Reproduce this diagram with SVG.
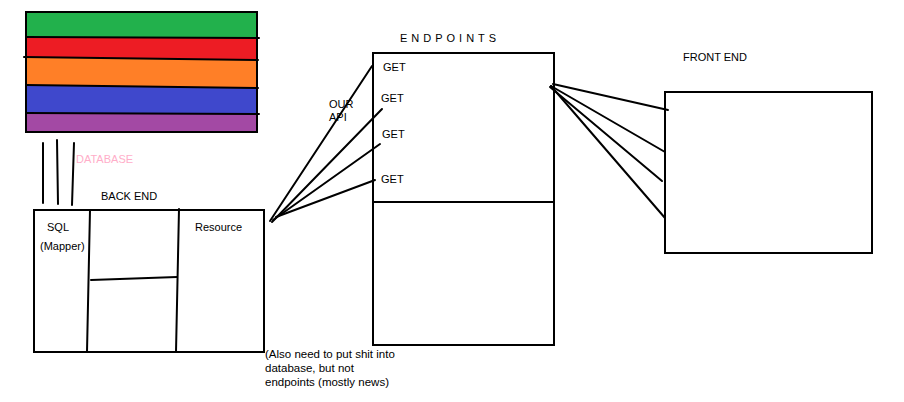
<svg xmlns="http://www.w3.org/2000/svg" width="904" height="402" viewBox="0 0 904 402">
<style>
.t{font-family:"Liberation Sans",Arial,sans-serif;font-size:11px;fill:#000}
.box{fill:none;stroke:#000;stroke-width:2}
.ln{stroke:#000;stroke-width:2;fill:none;stroke-linecap:round}
</style>
<rect width="904" height="402" fill="#fff"/>
<g id="database">
<polygon points="26,12 257,12 257,38 26,37" fill="#22b14c"/>
<polygon points="26,37 257,38 257,60 26,57" fill="#ed1c24"/>
<polygon points="26,57 257,60 257,88 26,85" fill="#ff7f27"/>
<polygon points="26,85 257,88 257,114 26,113" fill="#3f48cc"/>
<polygon points="26,113 257,114 257,132 26,132" fill="#a349a4"/>
<rect x="26" y="12" width="231" height="120" class="box"/>
<line x1="26" y1="37" x2="259" y2="38" class="ln"/>
<line x1="24" y1="57" x2="258" y2="60" class="ln"/>
<line x1="26" y1="85" x2="258" y2="88" class="ln"/>
<line x1="26" y1="113" x2="259" y2="114" class="ln"/>
<text x="76" y="163" class="t" style="fill:#ffaec9">DATABASE</text>
</g>
<g id="backend">
<text x="101" y="200" class="t">BACK END</text>
<rect x="34" y="210" width="230" height="142" class="box"/>
<line x1="90" y1="210" x2="87" y2="352" class="ln"/>
<line x1="179" y1="209" x2="176" y2="352" class="ln"/>
<line x1="91" y1="280" x2="177" y2="277" class="ln"/>
<text x="47" y="231" class="t">SQL</text>
<text x="40" y="250" class="t">(Mapper)</text>
<text x="195" y="231" class="t">Resource</text>
</g>
<g id="endpoints">
<text x="400" y="42" class="t" letter-spacing="4">ENDPOINTS</text>
<rect x="373" y="53" width="181" height="292" class="box"/>
<line x1="373" y1="202" x2="554" y2="202" class="ln"/>
<text x="383" y="71" class="t">GET</text>
<text x="381" y="102" class="t">GET</text>
<text x="382" y="138" class="t">GET</text>
<text x="381" y="183" class="t">GET</text>
</g>
<g id="frontend">
<text x="683" y="61" class="t">FRONT END</text>
<rect x="665" y="92" width="207" height="161" class="box"/>
</g>
<g id="labels">
<text x="329" y="108" class="t">OUR</text>
<text x="329" y="121" class="t">API</text>
<text class="t" style="font-size:11.5px"><tspan x="265" y="358">(Also need to put shit into</tspan><tspan x="265" y="372">database, but not</tspan><tspan x="265" y="386">endpoints (mostly news)</tspan></text>
</g>
<g id="connectors">
<line x1="43" y1="143" x2="43" y2="203" class="ln"/>
<line x1="57" y1="140" x2="58" y2="204" class="ln"/>
<line x1="74" y1="143" x2="72" y2="205" class="ln"/>
<line x1="372" y1="66" x2="270" y2="221" class="ln"/>
<line x1="382" y1="109" x2="272" y2="222" class="ln"/>
<line x1="380" y1="144" x2="273" y2="220" class="ln"/>
<line x1="375" y1="180" x2="276" y2="217" class="ln"/>
<line x1="553" y1="84" x2="668" y2="110" class="ln"/>
<line x1="551" y1="86" x2="665" y2="152" class="ln"/>
<line x1="550" y1="87" x2="662" y2="181" class="ln"/>
<line x1="551" y1="86" x2="665" y2="218" class="ln"/>
</g>
</svg>
